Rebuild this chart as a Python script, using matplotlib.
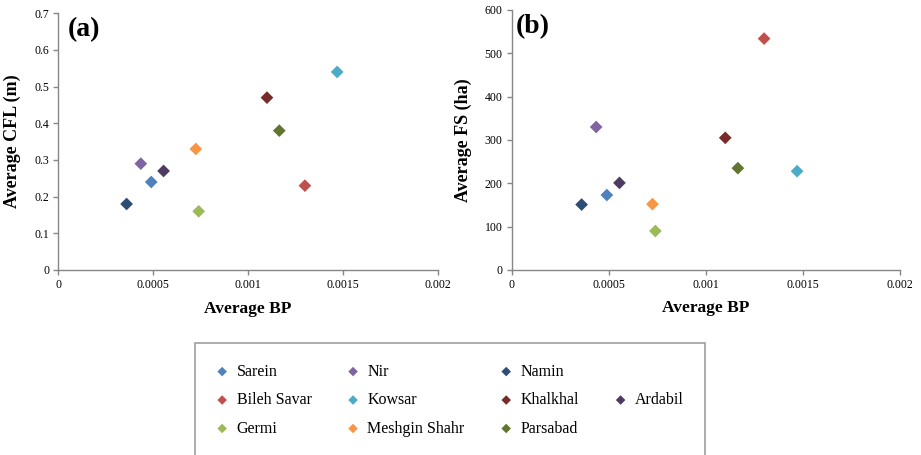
import matplotlib
matplotlib.use("Agg")
import matplotlib.pyplot as plt
from matplotlib.lines import Line2D

plt.rcParams['font.family'] = ['Liberation Serif', 'DejaVu Serif']

regions = ["Sarein", "Bileh Savar", "Germi", "Nir", "Kowsar", "Meshgin Shahr",
           "Namin", "Khalkhal", "Parsabad", "Ardabil"]
colors = ["#4F81BD", "#C0504D", "#9BBB59", "#8064A2", "#4BACC6", "#F79646",
          "#2C4D75", "#772C2A", "#5F7530", "#4D3B62"]
avg_bp = [0.00049, 0.0013, 0.00074, 0.000435, 0.00147, 0.000725,
          0.00036, 0.0011, 0.001165, 0.000555]
avg_cfl = [0.24, 0.23, 0.16, 0.29, 0.54, 0.33, 0.18, 0.47, 0.38, 0.27]
avg_fs = [173, 534, 90, 330, 228, 152, 151, 305, 235, 201]

x_ticks = [0, 0.0005, 0.001, 0.0015, 0.002]
x_ticklabels = ["0", "0.0005", "0.001", "0.0015", "0.002"]
cfl_ticks = [0, 0.1, 0.2, 0.3, 0.4, 0.5, 0.6, 0.7]
cfl_ticklabels = ["0", "0.1", "0.2", "0.3", "0.4", "0.5", "0.6", "0.7"]
fs_ticks = [0, 100, 200, 300, 400, 500, 600]

W, H = 921, 455
fig = plt.figure(figsize=(W / 100, H / 100), dpi=100)

def frac_axes(l, r, b, t):
    return fig.add_axes([l / W, 1 - b / H, (r - l) / W, (b - t) / H])

axa = frac_axes(58.3, 437.7, 270, 13.3)
axb = frac_axes(511.7, 900, 270, 10)

spine_col = "#868686"
handles = []
for ax, yvals, ylim, yticks, yticklabels, ylabel, tag, tagx in [
        (axa, avg_cfl, (0, 0.7), cfl_ticks, cfl_ticklabels, "Average CFL (m)", "(a)", 0.026),
        (axb, avg_fs, (0, 600), fs_ticks, [str(v) for v in fs_ticks], "Average FS (ha)", "(b)", 0.01)]:
    hs = []
    for name, c, xv, yv in zip(regions, colors, avg_bp, yvals):
        h = ax.scatter([xv], [yv], marker='D', s=42, color=c, edgecolors='none',
                       label=name, zorder=3)
        hs.append(h)
    handles = hs
    ax.set_xlim(0, 0.002)
    ax.set_ylim(*ylim)
    ax.set_xticks(x_ticks)
    ax.set_xticklabels(x_ticklabels)
    ax.set_yticks(yticks)
    ax.set_yticklabels(yticklabels)
    for s in ['top', 'right']:
        ax.spines[s].set_visible(False)
    for s in ['left', 'bottom']:
        ax.spines[s].set_color(spine_col)
        ax.spines[s].set_linewidth(1.0)
    ax.tick_params(axis='both', direction='out', length=3.5, width=1.0,
                   color=spine_col, labelsize=8.5, pad=3)
    ax.set_xlabel("Average BP", fontsize=12.5, fontweight='bold')
    ax.set_ylabel(ylabel, fontsize=13, fontweight='bold')
    ax.text(tagx, 0.985, tag, transform=ax.transAxes, fontsize=20,
            fontweight='bold', va='top', ha='left')

axa.yaxis.set_label_coords(-0.097, 0.5)
axb.yaxis.set_label_coords(-0.102, 0.5)
axa.xaxis.set_label_coords(0.5, -0.121)
axb.xaxis.set_label_coords(0.5, -0.115)

blank = Line2D([], [], linestyle='none', marker=None)
order = handles[:9] + [blank, handles[9], blank]
labels = regions[:9] + ["", regions[9], ""]
leg = fig.legend(order, labels, ncol=4, loc='upper left',
                 bbox_to_anchor=(195 / W, 1 - 343 / H),
                 fontsize=11.5, frameon=True, fancybox=False,
                 handlelength=0.8, handletextpad=0.5, columnspacing=2.2,
                 labelspacing=0.78, borderpad=1.3, borderaxespad=0,
                 markerscale=0.75)
leg.get_frame().set_edgecolor(spine_col)
leg.get_frame().set_linewidth(1.2)

fig.savefig("out.png", dpi=100)
